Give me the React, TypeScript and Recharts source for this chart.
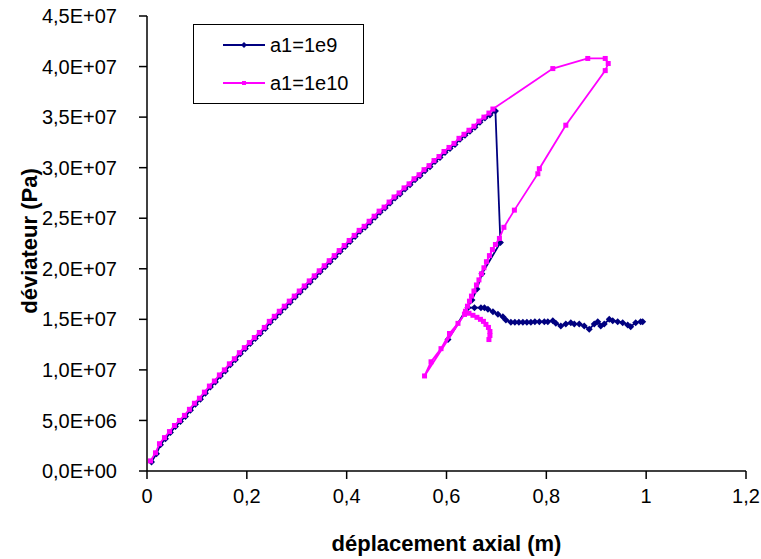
import { ScatterChart, Scatter, XAxis, YAxis } from "recharts";

const BLUE = "#000080";
const PINK = "#ff00ff";
const FONT = "'Liberation Sans', Arial, sans-serif";

// a1=1e9 : déplacement (m) / déviateur (MPa)
const blueX = [
  0.009, 0.019, 0.027, 0.037, 0.047, 0.057, 0.067, 0.077, 0.087, 0.097,
  0.107, 0.117, 0.127, 0.137, 0.147, 0.157, 0.167, 0.177, 0.187, 0.197,
  0.207, 0.217, 0.227, 0.237, 0.247, 0.257, 0.267, 0.277, 0.287, 0.297,
  0.307, 0.317, 0.327, 0.337, 0.347, 0.357, 0.367, 0.377, 0.387, 0.397,
  0.407, 0.417, 0.427, 0.437, 0.447, 0.457, 0.467, 0.477, 0.487, 0.497,
  0.507, 0.517, 0.527, 0.537, 0.547, 0.557, 0.567, 0.577, 0.587, 0.597,
  0.607, 0.617, 0.627, 0.637, 0.647, 0.657, 0.667, 0.677, 0.687, 0.698,
  0.708, 0.671, 0.661, 0.651, 0.603, 0.643, 0.656, 0.669, 0.676, 0.683,
  0.693, 0.703, 0.713, 0.719, 0.729, 0.737, 0.745, 0.753, 0.761, 0.769,
  0.777, 0.786, 0.796, 0.803, 0.813, 0.819, 0.829, 0.839, 0.849, 0.856,
  0.866, 0.876, 0.886, 0.896, 0.903, 0.909, 0.916, 0.926, 0.933, 0.943,
  0.953, 0.963, 0.969, 0.979, 0.989, 0.993,
];
const blueY = [
  0.9, 1.7, 2.6, 3.2, 3.8, 4.4, 4.9, 5.4, 6.0, 6.6,
  7.1, 7.7, 8.3, 8.8, 9.4, 9.9, 10.5, 11.0, 11.6, 12.1,
  12.6, 13.1, 13.6, 14.1, 14.7, 15.2, 15.7, 16.2, 16.7, 17.2,
  17.7, 18.2, 18.7, 19.2, 19.7, 20.2, 20.7, 21.2, 21.7, 22.2,
  22.7, 23.2, 23.7, 24.1, 24.6, 25.1, 25.6, 26.0, 26.5, 27.0,
  27.4, 27.9, 28.3, 28.8, 29.2, 29.7, 30.1, 30.6, 31.0, 31.5,
  31.9, 32.3, 32.8, 33.2, 33.6, 34.0, 34.5, 34.9, 35.2, 35.6,
  22.6, 19.5, 18.0, 16.9, 13.0, 16.15, 16.15, 16.15, 16.15, 16.0,
  15.76, 15.5, 15.26, 14.94, 14.71, 14.7, 14.7, 14.7, 14.7, 14.7,
  14.75, 14.77, 14.77, 14.77, 14.87, 14.61, 14.34, 14.54, 14.67, 14.54,
  14.54, 14.34, 14.02, 14.54, 14.77, 14.34, 14.54, 15.0, 14.87, 14.77,
  14.67, 14.44, 14.27, 14.67, 14.77, 14.77,
];

// a1=1e10
const pinkX = [
  0.007, 0.017, 0.025, 0.035, 0.045, 0.055, 0.065, 0.075, 0.085, 0.095,
  0.105, 0.115, 0.125, 0.135, 0.145, 0.155, 0.165, 0.175, 0.185, 0.195,
  0.205, 0.215, 0.225, 0.235, 0.245, 0.255, 0.265, 0.275, 0.285, 0.295,
  0.305, 0.315, 0.325, 0.335, 0.345, 0.355, 0.365, 0.375, 0.385, 0.395,
  0.405, 0.415, 0.425, 0.435, 0.445, 0.455, 0.465, 0.475, 0.485, 0.495,
  0.505, 0.515, 0.525, 0.535, 0.545, 0.555, 0.565, 0.575, 0.585, 0.595,
  0.605, 0.615, 0.625, 0.635, 0.645, 0.655, 0.665, 0.675, 0.685, 0.693,
  0.813, 0.883, 0.918, 0.924, 0.918, 0.839, 0.786, 0.783, 0.736, 0.715,
  0.706, 0.698, 0.692, 0.686, 0.680, 0.675, 0.670, 0.665, 0.660, 0.655,
  0.650, 0.646, 0.642, 0.638, 0.636, 0.623, 0.606, 0.589, 0.569, 0.556,
  0.636, 0.645, 0.653, 0.661, 0.668, 0.674, 0.679, 0.684, 0.687, 0.687,
  0.685,
];
const pinkY = [
  1.0, 1.8, 2.7, 3.3, 3.9, 4.5, 5.0, 5.5, 6.1, 6.7,
  7.2, 7.8, 8.4, 8.9, 9.5, 10.0, 10.6, 11.1, 11.7, 12.2,
  12.7, 13.2, 13.7, 14.2, 14.8, 15.3, 15.8, 16.3, 16.8, 17.3,
  17.8, 18.3, 18.8, 19.3, 19.8, 20.3, 20.8, 21.3, 21.8, 22.3,
  22.8, 23.3, 23.8, 24.2, 24.7, 25.2, 25.7, 26.1, 26.6, 27.1,
  27.5, 28.0, 28.4, 28.9, 29.3, 29.8, 30.2, 30.7, 31.1, 31.6,
  32.0, 32.4, 32.9, 33.3, 33.7, 34.1, 34.6, 35.0, 35.4, 35.8,
  39.8, 40.8, 40.8, 40.3, 39.6, 34.2, 29.9, 29.4, 25.8, 24.1,
  23.0, 22.4, 21.9, 21.3, 20.7, 20.1, 19.5, 18.9, 18.4, 17.8,
  17.3, 16.8, 16.3, 15.8, 15.5, 14.6, 13.6, 12.1, 10.8, 9.4,
  15.5, 15.6, 15.4, 15.2, 15.0, 14.8, 14.5, 14.2, 13.8, 13.4,
  13.0,
];

const xTicks = [0, 0.2, 0.4, 0.6, 0.8, 1, 1.2];
const yTicks = [0, 5e6, 1e7, 1.5e7, 2e7, 2.5e7, 3e7, 3.5e7, 4e7, 4.5e7];

const toPoints = (xs: number[], ys: number[]) =>
  xs.map((x, i) => ({ x, y: ys[i] * 1e6 }));

const blueData = toPoints(blueX, blueY);
const pinkData = toPoints(pinkX, pinkY);

function fmtY(v: number): string {
  const [m, e] = v.toExponential(1).split("e");
  const n = Number(e);
  const exp = (n < 0 ? "-" : "+") + String(Math.abs(n)).padStart(2, "0");
  return `${m.replace(".", ",")}E${exp}`;
}

function fmtX(v: number): string {
  return String(v).replace(".", ",");
}

const Diamond = (p: any) => {
  const { cx, cy } = p;
  return (
    <path
      d={`M${cx},${cy - 3.5}L${cx + 3.5},${cy}L${cx},${cy + 3.5}L${cx - 3.5},${cy}Z`}
      fill={BLUE}
    />
  );
};

const Square = (p: any) => (
  <rect x={p.cx - 2.5} y={p.cy - 2.5} width={5} height={5} fill={PINK} />
);

const legendItems = [
  { label: "a1=1e9", color: BLUE, marker: "diamond" },
  { label: "a1=1e10", color: PINK, marker: "square" },
];

function LegendBox() {
  return (
    <div
      style={{
        position: "absolute",
        left: 193,
        top: 24,
        width: 169,
        height: 78,
        border: "1px solid #000",
        background: "#fff",
        fontFamily: FONT,
        fontSize: 20,
      }}
    >
      {legendItems.map((it, i) => (
        <div
          key={it.label}
          style={{
            position: "absolute",
            left: 28,
            top: 8 + i * 38,
            display: "flex",
            alignItems: "center",
            height: 24,
          }}
        >
          <svg width={44} height={10} style={{ marginRight: 4 }}>
            <line x1={1} y1={5} x2={43} y2={5} stroke={it.color} strokeWidth={2} />
            {it.marker === "diamond" ? (
              <path d="M22,2L25,5L22,8L19,5Z" fill={it.color} />
            ) : (
              <rect x={20} y={3} width={4} height={4} fill={it.color} />
            )}
          </svg>
          <span style={{ color: "#000" }}>{it.label}</span>
        </div>
      ))}
    </div>
  );
}

export default function App() {
  const tickStyle = { fontSize: 20, fill: "#000", fontFamily: FONT };
  return (
    <div
      style={{
        position: "absolute",
        left: 0,
        top: 0,
        width: 761,
        height: 559,
        background: "#fff",
        fontFamily: FONT,
      }}
    >
      <ScatterChart
        width={761}
        height={559}
        margin={{ top: 16, right: 15, bottom: 0, left: 37 }}
      >
        <XAxis
          type="number"
          dataKey="x"
          domain={[0, 1.2]}
          ticks={xTicks}
          tickFormatter={fmtX}
          height={88}
          tickSize={8}
          tickMargin={10}
          axisLine={{ stroke: "#000", strokeWidth: 1.5 }}
          tickLine={{ stroke: "#000", strokeWidth: 1.5 }}
          tick={tickStyle}
          interval={0}
        />
        <YAxis
          type="number"
          dataKey="y"
          domain={[0, 4.5e7]}
          ticks={yTicks}
          tickFormatter={fmtY}
          width={110}
          tickSize={8}
          tickMargin={12}
          axisLine={{ stroke: "#000", strokeWidth: 1.5 }}
          tickLine={{ stroke: "#000", strokeWidth: 1.5 }}
          tick={{ ...tickStyle, dx: -10 }}
          interval={0}
        />
        <Scatter
          name="a1=1e9"
          data={blueData}
          line={{ stroke: BLUE, strokeWidth: 1.8 }}
          lineType="joint"
          shape={Diamond}
          isAnimationActive={false}
        />
        <Scatter
          name="a1=1e10"
          data={pinkData}
          line={{ stroke: PINK, strokeWidth: 1.8 }}
          lineType="joint"
          shape={Square}
          isAnimationActive={false}
        />
      </ScatterChart>
      <LegendBox />
      <div
        style={{
          position: "absolute",
          left: 0,
          width: 893,
          top: 531,
          textAlign: "center",
          fontWeight: "bold",
          fontSize: 22,
          color: "#000",
          whiteSpace: "nowrap",
        }}
      >
        déplacement axial (m)
      </div>
      <div
        style={{
          position: "absolute",
          left: 30,
          top: 241,
          transform: "translate(-50%, -50%) rotate(-90deg)",
          fontWeight: "bold",
          fontSize: 22,
          color: "#000",
          whiteSpace: "nowrap",
        }}
      >
        déviateur (Pa)
      </div>
    </div>
  );
}
